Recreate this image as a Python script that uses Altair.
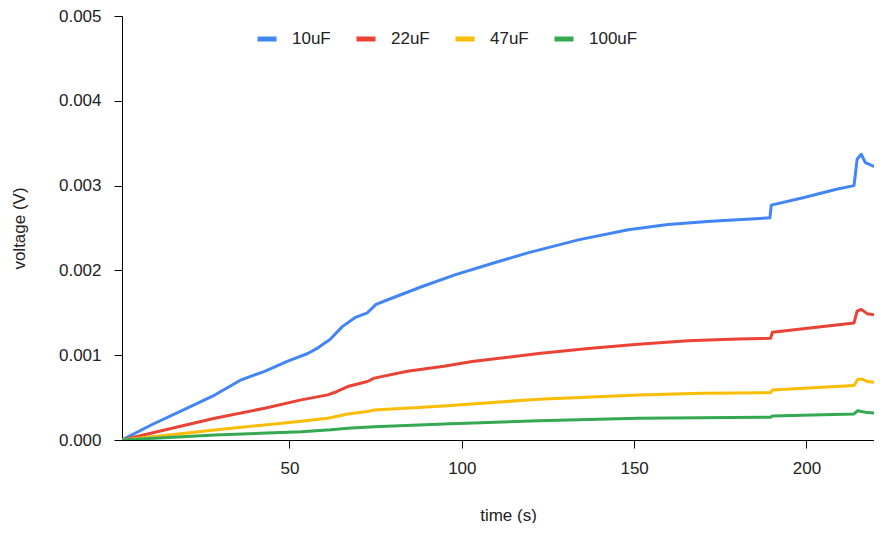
import altair as alt
import pandas as pd

series_names = ["10uF", "22uF", "47uF", "100uF"]
colors = ["#4285F4", "#EA4335", "#FBBC04", "#34A853"]

t_10 = [1.4, 10, 20, 28.3, 36, 42.8, 49.5, 55.3, 58, 60.1, 61.6, 65.4, 69.3, 72.6, 75.1, 78.9, 88.5,
        98.2, 107.8, 119.4, 133.8, 148.3, 159.8, 172.3, 189.4, 189.8, 199.3, 209, 213.8, 214.7,
        215.9, 217.1, 220.5, 221.2]
v_10 = [0, 0.00018, 0.00037, 0.00053, 0.00071, 0.00081, 0.00093, 0.00102, 0.00108, 0.00114, 0.00118,
        0.00134, 0.00145, 0.0015, 0.0016, 0.00166, 0.00181, 0.00195, 0.00207, 0.00221, 0.00236,
        0.00248, 0.00254, 0.00258, 0.00262, 0.00277, 0.00286, 0.00296, 0.0030, 0.00331, 0.00337,
        0.00327, 0.00321, 0.0037]

t_22 = [1.4, 15, 28.3, 42.8, 53.4, 61.1, 63, 66.9, 72.6, 74.6, 84.2, 94.8, 103, 122.3, 136.7, 151.2,
        165.6, 180, 189.6, 190.1, 213.8, 214.7, 215.9, 217.6, 220.5, 221.2]
v_22 = [0, 0.00013, 0.000256, 0.000375, 0.000473, 0.000532, 0.00056, 0.00063, 0.00069, 0.00073,
        0.00081, 0.00087, 0.000926, 0.00102, 0.00108, 0.00113, 0.00117, 0.00119, 0.0012, 0.00127,
        0.00138, 0.00152, 0.00154, 0.00149, 0.00147, 0.0017]

t_47 = [1.4, 15, 28.3, 42.8, 53.4, 61.1, 66.9, 72.6, 74.6, 94.8, 122.3, 151.2, 170, 189.6, 190.1,
        213.8, 214.9, 216.2, 217.6, 220.5, 221.2]
v_47 = [0, 0.00006, 0.000118, 0.000177, 0.00022, 0.000256, 0.000307, 0.000335, 0.000355, 0.000402,
        0.000481, 0.000532, 0.00055, 0.000559, 0.00059, 0.000642, 0.000717, 0.000717, 0.00069,
        0.000677, 0.00075]

t_100 = [1.4, 28.3, 53.4, 62, 66.9, 74.6, 94.8, 122.3, 151.2, 189.6, 190.1, 213.8, 214.9, 217.6,
         220.5, 221.2]
v_100 = [0, 0.000059, 0.000098, 0.00012, 0.000138, 0.000157, 0.000189, 0.000228, 0.000256, 0.000268,
         0.000284, 0.000307, 0.000346, 0.000323, 0.000316, 0.00034]

x_ticks = [50, 100, 150, 200]
y_ticks = [0, 0.001, 0.002, 0.003, 0.004, 0.005]

rows = []
for name, ts, vs in zip(series_names, [t_10, t_22, t_47, t_100], [v_10, v_22, v_47, v_100]):
    for i, (t, v) in enumerate(zip(ts, vs)):
        rows.append({"series": name, "time": t, "voltage": v, "order": i})
df = pd.DataFrame(rows)

FONT = "Liberation Sans"

chart = alt.Chart(df).mark_line(strokeWidth=3, clip=True, strokeJoin="round").encode(
    x=alt.X("time:Q",
            scale=alt.Scale(domain=[1.4, 219.6], nice=False, zero=False),
            axis=alt.Axis(values=x_ticks, format="d", grid=False, title="time (s)",
                          domainColor="#000", tickColor="#000", tickSize=8,
                          labelPadding=12, labelFontSize=17, labelColor="#222", labelFont=FONT,
                          titleFont=FONT, titleFontSize=17, titleFontWeight="normal", titleColor="#222",
                          titleX=386, titleY=75, titleBaseline="middle")),
    y=alt.Y("voltage:Q",
            scale=alt.Scale(domain=[0, 0.005], nice=False),
            axis=alt.Axis(values=y_ticks, format=".3f", grid=False, title="voltage (V)",
                          domainColor="#000", tickColor="#000", tickSize=8,
                          labelPadding=13, labelFontSize=17, labelColor="#222", labelFont=FONT,
                          titleFont=FONT, titleFontSize=17, titleFontWeight="normal", titleColor="#222",
                          titleX=-103, titleY=212, titleBaseline="middle", titleAngle=-90)),
    color=alt.Color("series:N",
                    scale=alt.Scale(domain=series_names, range=colors),
                    legend=alt.Legend(title=None, orient="none", legendX=133, legendY=11,
                                      direction="horizontal", columns=4, gridAlign="all",
                                      columnPadding=5, padding=0,
                                      symbolType="stroke", symbolStrokeWidth=5, symbolSize=361,
                                      labelOffset=13, labelFontSize=17, labelFont=FONT,
                                      labelColor="#222")),
    order="order:Q",
).properties(
    width=752, height=424,
    autosize=alt.AutoSizeParams(type="none"),
    padding={"left": 114, "top": 8, "right": 0, "bottom": 83},
).configure_view(stroke=None)

chart.save("out.html", embed_options={"renderer": "svg", "actions": False})
